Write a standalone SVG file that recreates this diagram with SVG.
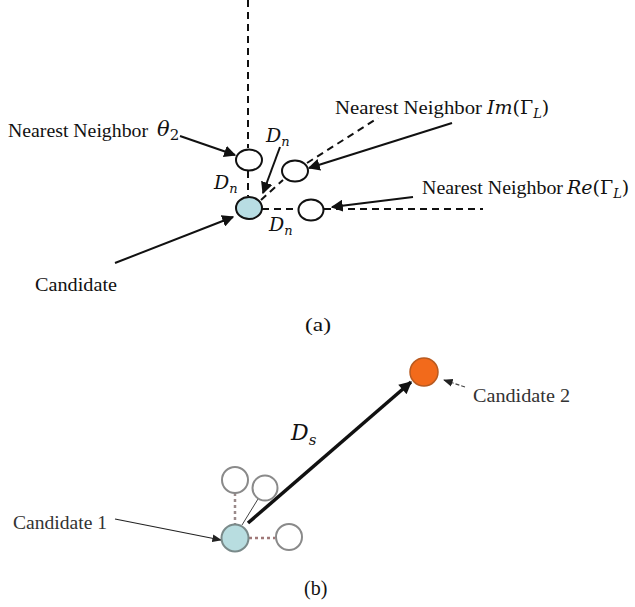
<svg xmlns="http://www.w3.org/2000/svg" width="635" height="607" viewBox="0 0 635 607">
<defs>
<style>
.t{font-family:"Liberation Serif","Times New Roman",serif;fill:#111}
.m{font-family:"DejaVu Serif","Liberation Serif",serif;font-style:italic;fill:#111}
.g{font-family:"Liberation Serif","Times New Roman",serif;fill:#333}
.dash{stroke:#111;stroke-width:2;stroke-dasharray:7,5;fill:none}
.arr{stroke:#111;stroke-width:2;fill:none;marker-end:url(#ah)}
.nb{fill:#fff;stroke:#111;stroke-width:2}
.nb2{fill:#fff;stroke:#8a8a8a;stroke-width:2}
</style>
<marker id="ah" viewBox="0 0 10 10" refX="9" refY="5" markerWidth="6" markerHeight="6" orient="auto" markerUnits="strokeWidth">
<path d="M0,0 L10,5 L0,10 z" fill="#111"/>
</marker>
<marker id="ah2" viewBox="0 0 10 10" refX="9" refY="5" markerWidth="4" markerHeight="3.6" orient="auto" markerUnits="strokeWidth">
<path d="M0,0 L10,5 L0,10 z" fill="#111"/>
</marker>
<marker id="ahs" viewBox="0 0 10 10" refX="9" refY="5" markerWidth="8" markerHeight="8" orient="auto" markerUnits="strokeWidth">
<path d="M0,1 L10,5 L0,9 z" fill="#222"/>
</marker>
</defs>
<rect width="635" height="607" fill="#fff"/>

<g id="connectors">
<line class="dash" x1="248" y1="0" x2="248" y2="148"/>
<line class="dash" x1="248" y1="171" x2="248" y2="196"/>
<line class="dash" x1="262" y1="209" x2="298" y2="209"/>
<line class="dash" x1="324" y1="209" x2="483" y2="209"/>
<line class="dash" x1="261" y1="200" x2="283" y2="180"/>
<line class="dash" x1="307" y1="163" x2="378" y2="118"/>
<line class="arr" x1="180" y1="136" x2="235" y2="155"/>
<line class="arr" x1="280" y1="147" x2="263" y2="193"/>
<line class="arr" x1="452" y1="123" x2="309" y2="168"/>
<line class="arr" x1="413" y1="197" x2="332" y2="207"/>
<line class="arr" x1="115" y1="263" x2="233" y2="217"/>
<line x1="235" y1="493" x2="235" y2="525" stroke="#9a8a8a" stroke-width="2.5" stroke-dasharray="3,3"/>
<line x1="249" y1="538" x2="275" y2="538" stroke="#a07878" stroke-width="2.5" stroke-dasharray="3,3"/>
<line x1="258" y1="499" x2="242" y2="525" stroke="#444" stroke-width="1"/>
<line x1="248" y1="523" x2="411" y2="382" stroke="#111" stroke-width="3.5" marker-end="url(#ah2)"/>
<line x1="115" y1="519" x2="221" y2="540" stroke="#222" stroke-width="1.2" marker-end="url(#ahs)"/>
<line x1="465" y1="387" x2="444" y2="380" stroke="#444" stroke-width="1.2" stroke-dasharray="4,2" marker-end="url(#ahs)"/>
</g>

<g id="candidate-a">
<ellipse cx="249" cy="208" rx="13" ry="11" fill="#b8dde3" stroke="#111" stroke-width="2"/>
</g>
<g id="neighbor-theta">
<ellipse class="nb" cx="249" cy="160" rx="13" ry="10.5"/>
</g>
<g id="neighbor-im">
<ellipse class="nb" cx="295" cy="171" rx="13" ry="10.5"/>
</g>
<g id="neighbor-re">
<ellipse class="nb" cx="311" cy="210" rx="12.5" ry="10.5"/>
</g>

<g id="labels-a">
<text class="t" x="8" y="137" font-size="18" textLength="140" lengthAdjust="spacingAndGlyphs">Nearest Neighbor</text>
<text class="m" x="157" y="136" font-size="21">θ<tspan font-style="normal" font-size="15" dy="4">2</tspan></text>
<text class="m" x="266" y="142" font-size="19">D<tspan font-size="13" dy="4">n</tspan></text>
<text class="m" x="214" y="189" font-size="19">D<tspan font-size="13" dy="4">n</tspan></text>
<text class="m" x="269" y="231" font-size="19">D<tspan font-size="13" dy="4">n</tspan></text>
<text class="t" x="335" y="114" font-size="18" textLength="147" lengthAdjust="spacingAndGlyphs">Nearest Neighbor</text>
<text class="m" x="487" y="114" font-size="19">Im<tspan font-style="normal">(Γ</tspan><tspan font-size="13" dy="4">L</tspan><tspan font-style="normal" dy="-4">)</tspan></text>
<text class="t" x="422" y="194" font-size="18" textLength="141" lengthAdjust="spacingAndGlyphs">Nearest Neighbor</text>
<text class="m" x="567" y="194" font-size="19">Re<tspan font-style="normal">(Γ</tspan><tspan font-size="13" dy="4">L</tspan><tspan font-style="normal" dy="-4">)</tspan></text>
<text class="t" x="35" y="291" font-size="18" textLength="82" lengthAdjust="spacingAndGlyphs">Candidate</text>
<text class="t" x="305" y="331" font-size="18" textLength="26" lengthAdjust="spacingAndGlyphs">(a)</text>
</g>

<g id="candidate-1">
<circle cx="235" cy="538" r="13.5" fill="#b8dde0" stroke="#7a8a8a" stroke-width="2"/>
</g>
<g id="neighbor-b-top">
<circle class="nb2" cx="235" cy="480" r="13"/>
</g>
<g id="neighbor-b-diag">
<circle class="nb2" cx="265" cy="488" r="12.5" stroke="#777"/>
</g>
<g id="neighbor-b-right">
<circle class="nb2" cx="289" cy="537" r="13"/>
</g>
<g id="candidate-2">
<circle cx="424" cy="372" r="14" fill="#f26a1b" stroke="#b85a20" stroke-width="1.5"/>
</g>

<g id="labels-b">
<text class="m" x="291" y="440" font-size="22">D<tspan font-size="15" dy="5">s</tspan></text>
<text class="g" x="13" y="529" font-size="18" textLength="94" lengthAdjust="spacingAndGlyphs">Candidate 1</text>
<text class="g" x="473" y="402" font-size="18" textLength="97" lengthAdjust="spacingAndGlyphs">Candidate 2</text>
<text class="t" x="304" y="595" font-size="20">(b)</text>
</g>
</svg>
